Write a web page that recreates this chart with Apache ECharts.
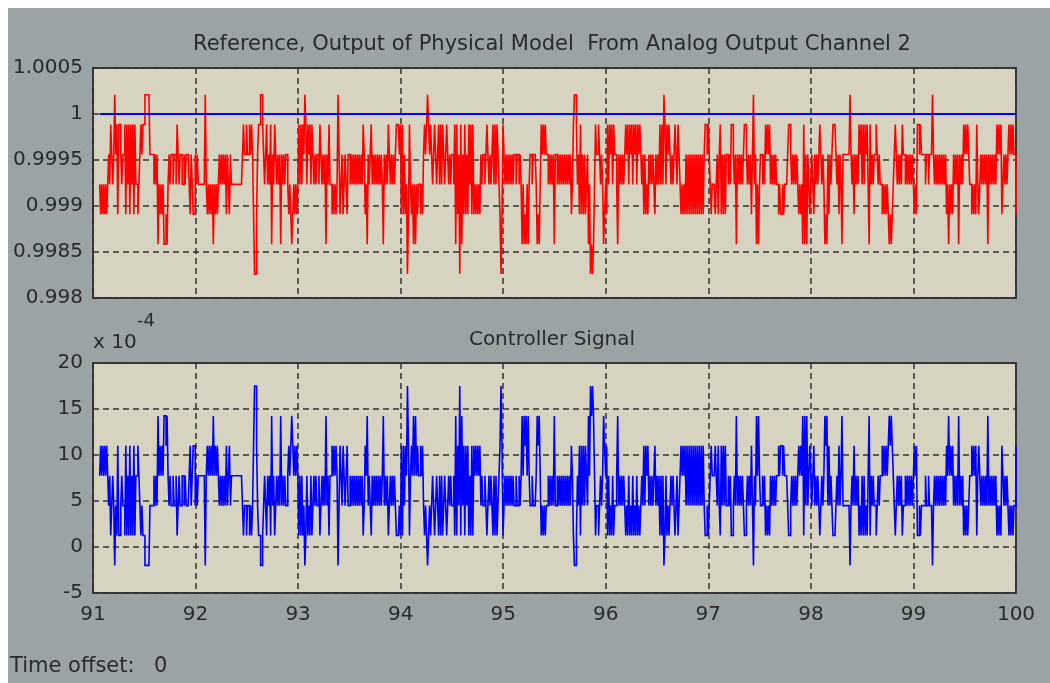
<!DOCTYPE html>
<html>
<head>
<meta charset="utf-8">
<script src="https://cdn.jsdelivr.net/npm/echarts@6/dist/echarts.min.js"></script>
<style>
  html, body { margin: 0; padding: 0; background: #ffffff; }
  #bg { position: absolute; left: 8px; top: 8px; width: 1042px; height: 675px; background: #9ba3a5; }
  #chart { position: absolute; left: 0; top: 0; width: 1050px; height: 683px; }
</style>
</head>
<body>
<div id="bg"></div>
<div id="chart"></div>
<script>
// ---- data ----
const timeStart = 91.065;
const timeEnd = 100;
const xTicks = [91, 92, 93, 94, 95, 96, 97, 98, 99, 100];

// quantised output levels (physical model output)
const outputLevels = [0.99826, 0.998585, 0.99891, 0.999235, 0.99956, 0.999885, 1.00021];
// quantised controller levels (x 10^-4)
const controllerLevels = [-2.0, 1.25, 4.5, 7.75, 11.0, 14.25, 17.5];
const referenceValue = 1;

// sample-by-sample level codes, read left to right
const outputCodes = [
3,2,3,2,3,2,3,2,3,
4,3,5,4,3,4,6,4,5,2,5,5,4,3,4,4,
5,2,5,3,5,2,5,3,5,2,5,
3,3,2,3,4,
5,4,5,5,
6,6,6,6,6,
4,4,4,4,
3,4,3,4,
1,3,2,3,2,3,1,1,2,1,3,
4,3,4,4,3,4,4,3,5,4,
3,4,4,3,3,4,3,4,4,
4,3,2,4,3,2,2,4,3,4,3,
3,3,3,3,3,3,
6,
3,2,3,2,3,2,3,1,3,2,3,2,3,
4,3,4,3,4,3,4,2,4,3,2,4,3,
3,3,3,3,3,3,3,3,3,3,
4,5,4,4,5,4,4,5,4,5,4,
2,0,0,2,
4,5,5,6,6,5,
4,3,4,5,3,4,3,5,1,4,3,5,4,3,
4,3,4,1,4,3,4,3,4,4,
3,2,3,2,1,2,3,2,3,2,3,
5,3,5,3,5,4,6,5,3,5,4,5,3,5,
4,3,4,3,4,
4,3,5,4,3,4,3,4,1,4,3,5,3,
3,2,3,2,3,2,3,
6,
4,2,3,4,2,3,4,3,2,4,
4,3,4,3,4,3,4,3,4,3,4,3,4,3,5,4,2,3,
1,
4,3,4,5,3,4,3,4,3,4,3,4,3,4,3,
1,
4,3,4,3,5,4,3,4,3,4,3,4,5,5,
5,4,5,2,5,2,4,2,3,0,2,
5,3,2,3,1,3,1,3,2,3,3,2,3,2,
4,5,4,5,6,5,4,5,
4,3,4,5,4,3,4,5,
3,5,3,5,4,3,
4,5,4,3,4,3,4,4,3,
5,1,5,2,4,0,5,1,4,2,
5,2,4,2,5,3,5,2,5,2,
3,2,3,2,3,2,
4,3,4,4,3,4,5,4,3,
4,3,4,5,3,5,3,5,4,3,2,
0,
2,5,4,3,4,3,4,3,4,3,4,
3,4,4,3,4,4,3,4,
3,1,3,1,2,1,3,1,3,
4,4,3,4,4,4,
3,1,2,1,3,
5,4,5,4,5,4,4,
3,4,3,4,3,4,1,4,4,3,
4,3,4,3,4,3,4,3,4,3,4,3,4,2,3,
5,6,6,5,3,
4,2,5,2,4,2,4,2,3,4,
1,3,0,1,0,1,3,
5,4,4,5,4,3,4,
3,1,2,3,2,
5,3,5,4,5,3,5,4,
4,3,1,4,3,4,3,4,3,4,
5,4,5,3,5,4,5,3,5,4,5,3,5,4,5,4,3,
4,2,4,2,3,2,4,3,
4,3,4,3,2,4,3,4,3,
5,3,5,3,6,5,3,5,
4,5,4,3,4,3,4,5,4,3,5,4,
3,2,3,2,3,2,
4,2,4,2,4,2,4,2,4,2,4,2,4,2,4,2,4,2,4,
5,5,4,5,4,3,2,3,
3,3,2,3,
4,2,4,5,2,4,2,4,2,4,
4,3,4,3,5,5,4,3,4,
1,
4,3,4,3,4,3,4,5,5,
4,3,4,3,4,2,4,6,3,4,
1,3,1,
3,4,
4,3,4,3,5,4,5,4,5,3,4,3,4,3,4,
3,3,2,3,2,2,3,2,3,3,3,
4,5,5,4,3,4,3,4,3,4,
3,2,3,2,3,
1,5,1,4,1,
4,3,2,3,4,3,2,
4,3,4,3,4,5,4,3,4,3,
1,2,1,
4,2,4,3,4,5,5,5,4,3,4,2,4,3,
1,
4,4,4,4,4,4,4,
6,
4,3,4,2,4,3,4,3,5,4,
5,3,5,3,5,4,5,3,1,5,3,
4,3,4,4,5,4,3,4,3,
3,2,3,2,3,2,3,2,1,2,1,2,3,
4,5,4,3,4,3,4,3,5,4,
4,3,4,3,4,3,4,3,4,3,
2,3,2,
5,5,4,5,4,
4,4,4,3,4,4,3,4,4,4,
6,
4,3,4,3,4,3,4,3,4,3,4,3,4,
2,3,1,3,2,3,2,
4,3,4,3,4,1,4,3,4,3,
5,4,5,4,5,4,3,
3,2,3,2,3,2,5,3,2,3,
4,3,4,3,4,3,4,1,4,3,4,3,4,3,4,3,
5,4,5,4,5,2,3,
4,3,4,3,4,
5,4,5,4,5,4,4,2
];

const controllerCodes = [
3,4,3,4,3,4,3,4,3,
2,3,1,2,3,2,0,2,1,4,1,1,2,3,2,2,
1,4,1,3,1,4,1,3,1,4,1,
3,3,4,3,2,
1,2,1,1,
0,0,0,0,0,
2,2,2,2,
3,2,3,2,
5,3,4,3,4,3,5,5,4,5,3,
2,3,2,2,3,2,2,3,1,2,
3,2,2,3,3,2,3,2,2,
2,3,4,2,3,4,4,2,3,2,3,
3,3,3,3,3,3,
0,
3,4,3,4,3,4,3,5,3,4,3,4,3,
2,3,2,3,2,3,2,4,2,3,4,2,3,
3,3,3,3,3,3,3,3,3,3,
2,1,2,2,1,2,2,1,2,1,2,
4,6,6,4,
2,1,1,0,0,1,
2,3,2,1,3,2,3,1,5,2,3,1,2,3,
2,3,2,5,2,3,2,3,2,2,
3,4,3,4,5,4,3,4,3,4,3,
1,3,1,3,1,2,0,1,3,1,2,1,3,1,
2,3,2,3,2,
2,3,1,2,3,2,3,2,5,2,3,1,3,
3,4,3,4,3,4,3,
0,
2,4,3,2,4,3,2,3,4,2,
2,3,2,3,2,3,2,3,2,3,2,3,2,3,1,2,4,3,
5,
2,3,2,1,3,2,3,2,3,2,3,2,3,2,3,
5,
2,3,2,3,1,2,3,2,3,2,3,2,1,1,
1,2,1,4,1,4,2,4,3,6,4,
1,3,4,3,5,3,5,3,4,3,3,4,3,4,
2,1,2,1,0,1,2,1,
2,3,2,1,2,3,2,1,
3,1,3,1,2,3,
2,1,2,3,2,3,2,2,3,
1,5,1,4,2,6,1,5,2,4,
1,4,2,4,1,3,1,4,1,4,
3,4,3,4,3,4,
2,3,2,2,3,2,1,2,3,
2,3,2,1,3,1,3,1,2,3,4,
6,
4,1,2,3,2,3,2,3,2,3,2,
3,2,2,3,2,2,3,2,
3,5,3,5,4,5,3,5,3,
2,2,3,2,2,2,
3,5,4,5,3,
1,2,1,2,1,2,2,
3,2,3,2,3,2,5,2,2,3,
2,3,2,3,2,3,2,3,2,3,2,3,2,4,3,
1,0,0,1,3,
2,4,1,4,2,4,2,4,3,2,
5,3,6,5,6,5,3,
1,2,2,1,2,3,2,
3,5,4,3,4,
1,3,1,2,1,3,1,2,
2,3,5,2,3,2,3,2,3,2,
1,2,1,3,1,2,1,3,1,2,1,3,1,2,1,2,3,
2,4,2,4,3,4,2,3,
2,3,2,3,4,2,3,2,3,
1,3,1,3,0,1,3,1,
2,1,2,3,2,3,2,1,2,3,1,2,
3,4,3,4,3,4,
2,4,2,4,2,4,2,4,2,4,2,4,2,4,2,4,2,4,2,
1,1,2,1,2,3,4,3,
3,3,4,3,
2,4,2,1,4,2,4,2,4,2,
2,3,2,3,1,1,2,3,2,
5,
2,3,2,3,2,3,2,1,1,
2,3,2,3,2,4,2,0,3,2,
5,3,5,
3,2,
2,3,2,3,1,2,1,2,1,3,2,3,2,3,2,
3,3,4,3,4,4,3,4,3,3,3,
2,1,1,2,3,2,3,2,3,2,
3,4,3,4,3,
5,1,5,2,5,
2,3,4,3,2,3,4,
2,3,2,3,2,1,2,3,2,3,
5,4,5,
2,4,2,3,2,1,1,1,2,3,2,4,2,3,
5,
2,2,2,2,2,2,2,
0,
2,3,2,4,2,3,2,3,1,2,
1,3,1,3,1,2,1,3,5,1,3,
2,3,2,2,1,2,3,2,3,
3,4,3,4,3,4,3,4,5,4,5,4,3,
2,1,2,3,2,3,2,3,1,2,
2,3,2,3,2,3,2,3,2,3,
4,3,4,
1,1,2,1,2,
2,2,2,3,2,2,3,2,2,2,
0,
2,3,2,3,2,3,2,3,2,3,2,3,2,
4,3,5,3,4,3,4,
2,3,2,3,2,5,2,3,2,3,
1,2,1,2,1,2,3,
3,4,3,4,3,4,1,3,4,3,
2,3,2,3,2,3,2,5,2,3,2,3,2,3,2,3,
1,2,1,2,1,4,3,
2,3,2,3,2,
1,2,1,2,1,2,2,4
];

// ---- build zero-order-hold (stair) series from the arrays ----
function buildStairs(codes, levels) {
  const n = codes.length;
  const dt = (timeEnd - timeStart) / (n - 1);
  const pts = [];
  for (let i = 0; i < n; i++) {
    const t = timeStart + i * dt;
    if (i > 0) pts.push([t, levels[codes[i - 1]]]);
    pts.push([t, levels[codes[i]]]);
  }
  return pts;
}
const outputData = buildStairs(outputCodes, outputLevels);
const controllerData = buildStairs(controllerCodes, controllerLevels);
const referenceData = [[timeStart, referenceValue], [timeEnd, referenceValue]];

const FONT = '"DejaVu Sans", "Liberation Sans", sans-serif';
const TXT = '#2a2a2a';
const gridLine = { show: true, lineStyle: { color: '#333333', width: 1.5, type: [6, 4] } };

const chart = echarts.init(document.getElementById('chart'), null, { renderer: 'canvas' });
chart.setOption({
  animation: false,
  backgroundColor: 'transparent',
  grid: [
    { left: 93, top: 68, width: 923, height: 230, show: true, backgroundColor: '#d6d3c0', borderColor: '#3a3a3a', borderWidth: 2 },
    { left: 93, top: 363, width: 923, height: 230, show: true, backgroundColor: '#d6d3c0', borderColor: '#3a3a3a', borderWidth: 2 }
  ],
  xAxis: [
    { gridIndex: 0, type: 'value', min: xTicks[0], max: xTicks[xTicks.length - 1], interval: 1,
      axisLine: { show: false }, axisTick: { show: false }, axisLabel: { show: false }, splitLine: gridLine },
    { gridIndex: 1, type: 'value', min: xTicks[0], max: xTicks[xTicks.length - 1], interval: 1,
      axisLine: { show: false }, axisTick: { show: false },
      axisLabel: { show: true, color: TXT, fontSize: 20, fontFamily: FONT, margin: 12, showMinLabel: true, showMaxLabel: true },
      splitLine: gridLine }
  ],
  yAxis: [
    { gridIndex: 0, type: 'value', min: 0.998, max: 1.0005, interval: 0.0005,
      axisLine: { show: false }, axisTick: { show: false },
      axisLabel: { color: TXT, fontSize: 20, fontFamily: FONT, margin: 10,
        formatter: v => String(Number(v.toFixed(4))) },
      splitLine: gridLine },
    { gridIndex: 1, type: 'value', min: -5, max: 20, interval: 5,
      axisLine: { show: false }, axisTick: { show: false },
      axisLabel: { color: TXT, fontSize: 20, fontFamily: FONT, margin: 10 },
      splitLine: gridLine }
  ],
  series: [
    { type: 'line', xAxisIndex: 0, yAxisIndex: 0, data: outputData, showSymbol: false, sampling: null,
      lineStyle: { color: '#ff0000', width: 1.6, join: 'miter', cap: 'butt' }, z: 2, silent: true },
    { type: 'line', xAxisIndex: 0, yAxisIndex: 0, data: referenceData, showSymbol: false,
      lineStyle: { color: '#0000ff', width: 2 }, z: 3, silent: true },
    { type: 'line', xAxisIndex: 1, yAxisIndex: 1, data: controllerData, showSymbol: false, sampling: null,
      lineStyle: { color: '#0000ff', width: 1.6, join: 'miter', cap: 'butt' }, z: 2, silent: true }
  ],
  graphic: [
    { type: 'text', x: 552, y: 45, style: { text: 'Reference, Output of Physical Model  From Analog Output Channel 2', fill: TXT, font: '21px ' + FONT, align: 'center', verticalAlign: 'middle', textAlign: 'center', textVerticalAlign: 'middle' } },
    { type: 'text', x: 552, y: 340, style: { text: 'Controller Signal', fill: TXT, font: '20px ' + FONT, align: 'center', verticalAlign: 'middle', textAlign: 'center', textVerticalAlign: 'middle' } },
    { type: 'text', x: 93, y: 343, style: { text: 'x 10', fill: TXT, font: '20px ' + FONT, align: 'left', verticalAlign: 'middle', textAlign: 'left', textVerticalAlign: 'middle' } },
    { type: 'text', x: 137, y: 321, style: { text: '-4', fill: TXT, font: '18px ' + FONT, align: 'left', verticalAlign: 'middle', textAlign: 'left', textVerticalAlign: 'middle' } },
    { type: 'text', x: 10, y: 667, style: { text: 'Time offset:', fill: TXT, font: '21px ' + FONT, align: 'left', verticalAlign: 'middle', textAlign: 'left', textVerticalAlign: 'middle' } },
    { type: 'text', x: 154, y: 667, style: { text: '0', fill: TXT, font: '21px ' + FONT, align: 'left', verticalAlign: 'middle', textAlign: 'left', textVerticalAlign: 'middle' } }
  ]
});
</script>
</body>
</html>
